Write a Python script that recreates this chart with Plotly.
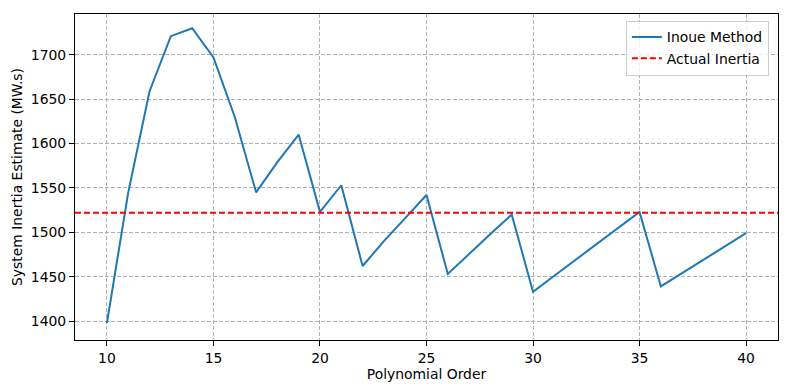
import plotly.graph_objects as go

orders = list(range(10, 41))
inoue_estimate = [1398, 1545, 1659, 1721, 1730, 1697, 1630, 1545, 1579, 1610,
                  1523, 1553, 1462, 1490, 1516, 1542, 1453, 1476, 1498, 1520,
                  1433, 1451, 1469, 1487, 1505, 1523, 1439, 1454, 1469, 1484, 1499]
actual_inertia = 1522
y_ticks = [1400, 1450, 1500, 1550, 1600, 1650, 1700]
x_ticks = [10, 15, 20, 25, 30, 35, 40]

span = max(orders) - min(orders)
x_range = [min(orders) - 0.05 * span, max(orders) + 0.05 * span]
y_range = [1378.6, 1746]

font = dict(family="DejaVu Sans", size=13.9, color="black")

fig = go.Figure()
fig.add_trace(go.Scatter(x=orders, y=inoue_estimate, mode="lines", name="Inoue Method",
                         line=dict(color="#1f77b4", width=2)))
fig.add_trace(go.Scatter(x=x_range, y=[actual_inertia, actual_inertia], mode="lines",
                         name="Actual Inertia",
                         line=dict(color="red", width=2, dash="6px,3px")))

axis_common = dict(showline=True, linecolor="black", linewidth=1, mirror=True,
                   ticks="outside", ticklen=5, tickcolor="black", automargin=False,
                   showgrid=True, gridcolor="#b0b0b0", griddash="4px,2px", gridwidth=1,
                   zeroline=False, tickfont=font)

fig.update_xaxes(range=x_range, tickvals=x_ticks, title=dict(text="Polynomial Order", font=font, standoff=0),
                 **axis_common)
fig.update_yaxes(range=y_range, tickvals=y_ticks, title=dict(text="System Inertia Estimate (MW.s)", font=font, standoff=4),
                 **axis_common)

fig.update_layout(
    width=782, height=382,
    margin=dict(l=67, r=12, t=6, b=50),
    plot_bgcolor="white", paper_bgcolor="white",
    font=font,
    legend=dict(x=0.987, y=0.98, xanchor="right", yanchor="top",
                bgcolor="rgba(255,255,255,0.8)", bordercolor="#cccccc", borderwidth=1,
                font=font, tracegroupgap=0),
)

fig.write_html("out.html")
